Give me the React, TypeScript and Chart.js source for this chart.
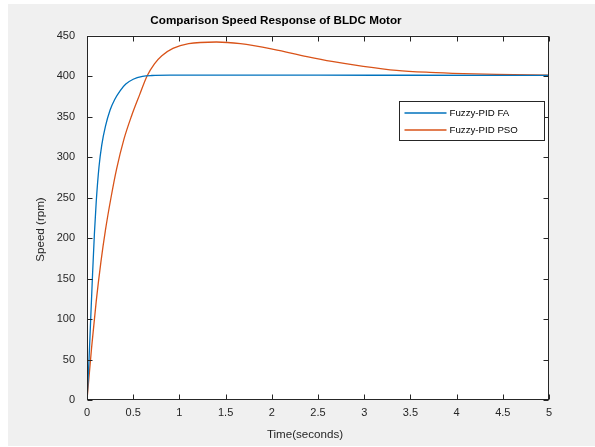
import React, { useEffect, useRef } from "react";
import { Chart, registerables } from "chart.js";

Chart.register(...registerables);

const chartTitle = "Comparison Speed Response of BLDC Motor";
const xTitle = "Time(seconds)";
const yTitle = "Speed (rpm)";
const seriesNames = ["Fuzzy-PID FA", "Fuzzy-PID PSO"];
const seriesColors = ["#0072BD", "#D95319"];

const timeFA = [0, 0.02, 0.04, 0.06, 0.08, 0.1, 0.13, 0.16, 0.2, 0.25, 0.3, 0.36, 0.42, 0.5, 0.6, 0.7, 0.9, 1.5, 2.5, 3.5, 4.5, 5];
const speedFA = [0, 45, 100, 155, 205, 245, 288, 315, 338, 358, 371, 382, 390, 396, 399.5, 400.6, 401, 401, 401, 400.9, 400.8, 400.8];

const timePSO = [0, 0.05, 0.1, 0.15, 0.2, 0.26, 0.32, 0.4, 0.48, 0.57, 0.65, 0.73, 0.81, 0.93, 1.1, 1.4, 1.66, 2.02, 2.38, 2.65, 2.99, 3.35, 3.71, 4.07, 4.43, 5];
const speedPSO = [0, 65, 122, 170, 210, 250, 285, 322, 350, 377, 400, 415, 425, 434, 440, 442, 440, 433, 424, 418, 412, 407, 404.5, 403, 402, 401];

const xMin = 0, xMax = 5, xStep = 0.5;
const yMin = 0, yMax = 450, yStep = 50;

const FONT = "'Liberation Sans', Arial, Helvetica, sans-serif";
const INK = "#262626";

const fmt = (v: any) => `${+Number(v).toFixed(2)}`;

const decorPlugin = {
  id: "matlabDecor",
  beforeDraw(chart: any) {
    const { ctx, chartArea: a, width, height } = chart;
    ctx.save();
    ctx.fillStyle = "#f0f0f0";
    ctx.fillRect(0, 0, width, height);
    ctx.fillStyle = "#ffffff";
    ctx.fillRect(a.left, a.top, a.right - a.left, a.bottom - a.top);
    ctx.restore();
  },
  afterDatasetsDraw(chart: any) {
    const { ctx, chartArea: a, scales } = chart;
    const xs = scales.x, ys = scales.y;
    ctx.save();
    ctx.strokeStyle = INK;
    ctx.lineWidth = 1;
    const L = Math.round(a.left) + 0.5, R = Math.round(a.right) - 0.5;
    const T = Math.round(a.top) + 0.5, B = Math.round(a.bottom) - 0.5;
    ctx.strokeRect(L, T, R - L, B - T);
    const tl = 5;
    ctx.beginPath();
    for (let v = xMin; v <= xMax + 1e-9; v += xStep) {
      const px = Math.round(xs.getPixelForValue(v)) + 0.5;
      ctx.moveTo(px, B); ctx.lineTo(px, B - tl);
      ctx.moveTo(px, T); ctx.lineTo(px, T + tl);
    }
    for (let v = yMin; v <= yMax + 1e-9; v += yStep) {
      const py = Math.round(ys.getPixelForValue(v)) + 0.5;
      ctx.moveTo(L, py); ctx.lineTo(L + tl, py);
      ctx.moveTo(R, py); ctx.lineTo(R - tl, py);
    }
    ctx.stroke();

    ctx.fillStyle = "#000";
    ctx.font = `bold 11.7px ${FONT}`;
    ctx.textAlign = "center";
    ctx.textBaseline = "middle";
    ctx.fillText(chartTitle, a.left + 189, a.top - 14.5);
    ctx.fillStyle = INK;
    ctx.font = `11.6px ${FONT}`;
    ctx.fillText(xTitle, a.left + 218, a.bottom + 35);
    ctx.save();
    ctx.translate(a.left - 46, a.top + 194);
    ctx.rotate(-Math.PI / 2);
    ctx.fillText(yTitle, 0, 0);
    ctx.restore();

    const bw = 145, bh = 39;
    const bx = Math.round(a.right - 5 - bw) + 0.5;
    const by = Math.round(a.top + 65.5) + 0.5;
    ctx.fillStyle = "#fff";
    ctx.fillRect(bx, by, bw, bh);
    ctx.strokeStyle = INK;
    ctx.lineWidth = 1;
    ctx.strokeRect(bx, by, bw, bh);
    ctx.font = `9.7px ${FONT}`;
    ctx.textAlign = "left";
    ctx.textBaseline = "middle";
    seriesNames.forEach((name, i) => {
      const ry = by + 11.5 + i * 17;
      ctx.strokeStyle = seriesColors[i];
      ctx.lineWidth = 1.3;
      ctx.beginPath();
      ctx.moveTo(bx + 5, ry);
      ctx.lineTo(bx + 47, ry);
      ctx.stroke();
      ctx.fillStyle = "#000";
      ctx.fillText(name, bx + 50, ry);
    });
    ctx.restore();
  },
};

export default function App() {
  const ref = useRef<HTMLCanvasElement | null>(null);
  useEffect(() => {
    if (!ref.current) return;
    const chart = new Chart(ref.current, {
      type: "line",
      data: {
        datasets: [
          {
            label: seriesNames[0],
            data: timeFA.map((t, i) => ({ x: t, y: speedFA[i] })),
            borderColor: seriesColors[0],
            borderWidth: 1.3,
            pointRadius: 0,
            fill: false,
            cubicInterpolationMode: "monotone",
          },
          {
            label: seriesNames[1],
            data: timePSO.map((t, i) => ({ x: t, y: speedPSO[i] })),
            borderColor: seriesColors[1],
            borderWidth: 1.3,
            pointRadius: 0,
            fill: false,
            cubicInterpolationMode: "monotone",
          },
        ],
      },
      options: {
        responsive: false,
        animation: false,
        devicePixelRatio: 1,
        layout: { padding: { left: 0, top: 31.5, right: 46, bottom: 0 } },
        plugins: { legend: { display: false }, title: { display: false }, tooltip: { enabled: false } },
        events: [],
        scales: {
          x: {
            type: "linear",
            min: xMin,
            max: xMax,
            grid: { display: false, drawTicks: false },
            border: { display: false },
            ticks: { stepSize: xStep, padding: 6, color: INK, font: { family: FONT, size: 11 }, maxRotation: 0, autoSkip: false, callback: fmt },
            afterFit: (s: any) => { s.height = 46; },
          },
          y: {
            type: "linear",
            min: yMin,
            max: yMax,
            grid: { display: false, drawTicks: false },
            border: { display: false },
            ticks: { stepSize: yStep, padding: 12, color: INK, font: { family: FONT, size: 11 }, autoSkip: false, callback: fmt },
            afterFit: (s: any) => { s.width = 79; },
          },
        },
      } as any,
      plugins: [decorPlugin],
    });
    return () => chart.destroy();
  }, []);
  return (
    <div style={{ position: "fixed", left: 8, top: 4, width: 587, height: 442 }}>
      <canvas ref={ref} width={587} height={442} style={{ display: "block" }} />
    </div>
  );
}
